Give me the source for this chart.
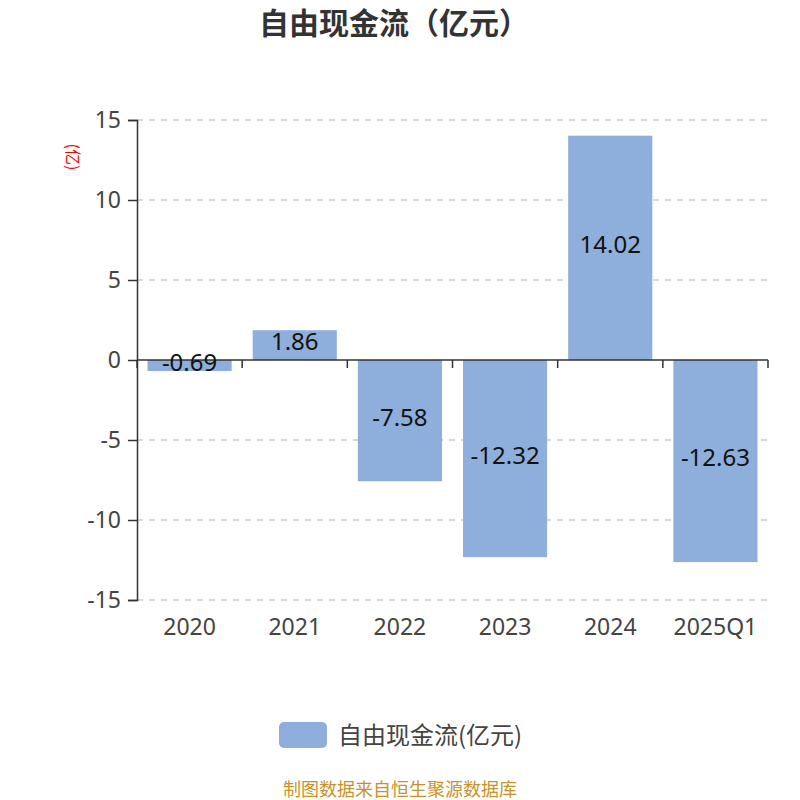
<!DOCTYPE html>
<html>
<head>
<meta charset="utf-8">
<script src="https://cdn.jsdelivr.net/npm/d3@7"></script>
<style>
  body { margin: 0; background: #fff; }
  text { font-family: "Noto Sans CJK SC", "Noto Sans", sans-serif; }
  .num { font-family: "Noto Sans", "Noto Sans CJK SC", sans-serif; }
</style>
</head>
<body>
<div id="chart"></div>
<script>
const width = 800;
const height = 800;
const margin = { top: 120, right: 32, bottom: 200, left: 137 };

// chart data
const categories = ["2020", "2021", "2022", "2023", "2024", "2025Q1"];
const values = [-0.69, 1.86, -7.58, -12.32, 14.02, -12.63];
const yTicks = [-15, -10, -5, 0, 5, 10, 15];

const barColor = "#8eaedb";

const svg = d3
  .select("#chart")
  .append("svg")
  .attr("width", width)
  .attr("height", height);

const xScale = d3
  .scaleBand()
  .domain(categories)
  .range([margin.left, width - margin.right])
  .paddingInner(0.2)
  .paddingOuter(0.1);

const yScale = d3
  .scaleLinear()
  .domain([-15, 15])
  .range([height - margin.bottom, margin.top]);

// title
svg
  .append("text")
  .attr("x", width / 2 - 6)
  .attr("y", 34)
  .attr("text-anchor", "middle")
  .attr("font-size", "30px")
  .attr("font-weight", "bold")
  .attr("fill", "#333")
  .text("自由现金流（亿元）");

// grid lines
svg
  .append("g")
  .selectAll("line")
  .data(yTicks.filter((d) => d !== 0))
  .enter()
  .append("line")
  .attr("x1", margin.left)
  .attr("x2", width - margin.right)
  .attr("y1", (d) => yScale(d))
  .attr("y2", (d) => yScale(d))
  .attr("stroke", "#ccc")
  .attr("stroke-width", 1.5)
  .attr("stroke-dasharray", "6,6");

// bars
svg
  .selectAll("rect.bar")
  .data(values)
  .enter()
  .append("rect")
  .attr("class", "bar")
  .attr("x", (d, i) => xScale(categories[i]))
  .attr("width", xScale.bandwidth())
  .attr("y", (d) => yScale(Math.max(0, d)))
  .attr("height", (d) => Math.abs(yScale(d) - yScale(0)))
  .attr("fill", barColor);

// y-axis
const yAxis = svg
  .append("g")
  .attr("transform", `translate(${margin.left},0)`)
  .call(
    d3
      .axisLeft(yScale)
      .tickValues(yTicks)
      .tickFormat((d) => String(d))
      .tickSize(9)
      .tickPadding(7)
  );
yAxis.select(".domain").attr("stroke", "#333").attr("stroke-width", 1.5);
yAxis.selectAll(".tick line").attr("stroke", "#333").attr("stroke-width", 1.5);
yAxis
  .selectAll(".tick text")
  .attr("class", "num")
  .attr("font-size", "23px")
  .attr("fill", "#444")
  .attr("font-family", null);

// x-axis line at zero
const bandStep = xScale.step();
const xTickPos = categories.map((c) => xScale(c) - xScale.paddingInner() * bandStep / 2);
xTickPos.push(width - margin.right);
svg
  .append("line")
  .attr("x1", margin.left)
  .attr("x2", width - margin.right)
  .attr("y1", yScale(0))
  .attr("y2", yScale(0))
  .attr("stroke", "#333")
  .attr("stroke-width", 1.5);
svg
  .append("g")
  .selectAll("line")
  .data(xTickPos)
  .enter()
  .append("line")
  .attr("x1", (d) => d)
  .attr("x2", (d) => d)
  .attr("y1", yScale(0))
  .attr("y2", yScale(0) + 8)
  .attr("stroke", "#333")
  .attr("stroke-width", 1.5);

// category labels at the bottom
svg
  .append("g")
  .selectAll("text")
  .data(categories)
  .enter()
  .append("text")
  .attr("class", "num")
  .attr("x", (d) => xScale(d) + xScale.bandwidth() / 2)
  .attr("y", yScale(-15) + 35)
  .attr("text-anchor", "middle")
  .attr("font-size", "23px")
  .attr("fill", "#444")
  .text((d) => d);

// value labels
svg
  .append("g")
  .selectAll("text")
  .data(values)
  .enter()
  .append("text")
  .attr("class", "num")
  .attr("x", (d, i) => xScale(categories[i]) + xScale.bandwidth() / 2)
  .attr("y", (d) => (yScale(d) + yScale(0)) / 2)
  .attr("dy", "0.22em")
  .attr("text-anchor", "middle")
  .attr("font-size", "24px")
  .attr("fill", "#111")
  .text((d) => d.toFixed(2));

// y-axis unit label
svg
  .append("text")
  .attr("transform", `translate(73,157) rotate(90)`)
  .attr("text-anchor", "middle")
  .attr("dy", "0.35em")
  .attr("font-size", "16px")
  .attr("fill", "red")
  .text("(亿)");

// legend
svg
  .append("rect")
  .attr("x", 279)
  .attr("y", 722)
  .attr("width", 48)
  .attr("height", 26)
  .attr("rx", 5)
  .attr("fill", barColor);
svg
  .append("text")
  .attr("x", 338)
  .attr("y", 735)
  .attr("dy", "0.36em")
  .attr("font-size", "24px")
  .attr("fill", "#444")
  .text("自由现金流(亿元)");

// source footer
svg
  .append("text")
  .attr("x", width / 2)
  .attr("y", 796)
  .attr("text-anchor", "middle")
  .attr("font-size", "18px")
  .attr("fill", "#c8922a")
  .text("制图数据来自恒生聚源数据库");
</script>
</body>
</html>
